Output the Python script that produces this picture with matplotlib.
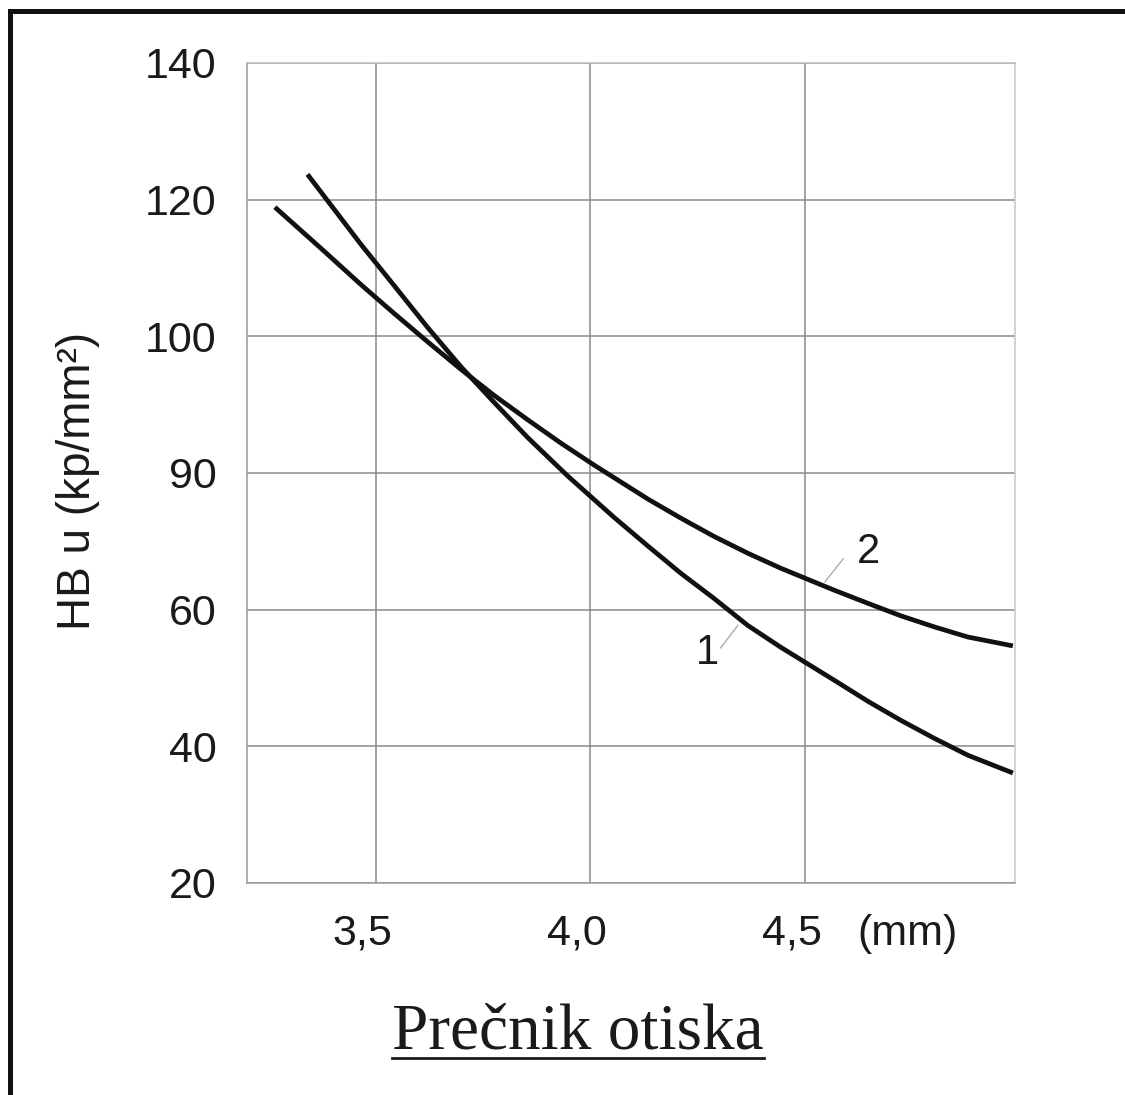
import numpy as np
import matplotlib
matplotlib.use("Agg")
import matplotlib.pyplot as plt
from matplotlib.lines import Line2D
from matplotlib.transforms import ScaledTranslation

#data
hb_ticks=[20,40,60,90,100,120,140]
d_ticks=[3.5,4.0,4.5]
d_labels=["3,5","4,0","4,5"]

d_curve1=[3.341,3.465,3.542,3.621,3.698,3.775,3.854,3.948,4.055,4.134,4.211,4.288,4.367,4.444,
          4.568,4.647,4.724,4.801,4.880,4.985]
hb_curve1=[123.7,113.5,107.5,101.3,97.8,95.2,92.6,89.3,80.3,74.0,68.0,62.5,57.7,54.5,
           49.7,46.6,43.8,41.2,38.7,36.1]

d_curve2=[3.265,3.372,3.465,3.542,3.621,3.698,3.775,3.854,3.931,4.008,4.134,4.211,4.288,4.367,4.444,
          4.568,4.647,4.724,4.801,4.880,4.985]
hb_curve2=[118.9,112.9,107.6,103.4,99.6,97.6,95.7,93.9,92.2,90.6,84.3,80.1,76.1,72.4,69.1,
           64.3,61.4,59.1,57.5,56.0,54.7]

#the hb axis is not linear: every tick gets the same spacing
tick_pos=np.arange(len(hb_ticks))
def fwd(v):
    return np.interp(v,hb_ticks,tick_pos)
def inv(p):
    return np.interp(p,tick_pos,hb_ticks)

plt.rcParams['font.family']=['Liberation Sans','DejaVu Sans']

fig=plt.figure(figsize=(11.25,10.95),dpi=100)
W,H=1125,1095
ax=fig.add_axes([247/W,1-883/H,(1015-247)/W,(883-63)/H])
ax.set_yscale('function',functions=(fwd,inv))
ax.set_xlim(3.2,4.99)
ax.set_ylim(20,140)
ax.set_yticks(hb_ticks)
ax.set_yticklabels([str(v) for v in hb_ticks])
ax.set_xticks(d_ticks)
ax.set_xticklabels(d_labels)
ax.tick_params(length=0,labelsize=31,colors='#1a1a1a')
ax.tick_params(axis='y',pad=22)
ax.tick_params(axis='x',pad=22)
#x tick labels sit a bit left of their grid lines in the original
for lab in ax.get_xticklabels():
    lab.set_transform(lab.get_transform()+ScaledTranslation(-0.13,0,fig.dpi_scale_trans))
ax.grid(True,color='#8a8a8a',lw=1.1)
for s in ax.spines.values():
    s.set_color('#9a9a9a')
    s.set_linewidth(1.1)
ax.spines['right'].set_color('#c8c8c8')
ax.spines['top'].set_color('#bdbdbd')

#curves
ax.plot(d_curve1,hb_curve1,color='#111111',lw=3.4,solid_capstyle='butt',solid_joinstyle='round')
ax.plot(d_curve2,hb_curve2,color='#111111',lw=3.4,solid_capstyle='butt',solid_joinstyle='round')

#curve labels with small leader lines
ax.plot([4.304,4.344],[54.4,57.7],color='#aaaaaa',lw=1)
ax.plot([4.547,4.589],[66.1,71.1],color='#aaaaaa',lw=1)
ax.text(4.274,53.7,"1",fontsize=30,ha='center',va='center',color='#1a1a1a')
ax.text(4.649,72.6,"2",fontsize=30,ha='center',va='center',color='#1a1a1a')

#unit next to the x ticks
ax.annotate("(mm)",xy=(4.74,0),xycoords=('data','axes fraction'),xytext=(0,-22),
            textcoords='offset points',ha='center',va='top',fontsize=31,color='#1a1a1a')

ax.set_ylabel("HB u (kp/mm²)",fontsize=33,color='#1a1a1a')
ax.yaxis.set_label_coords(-(247-100)/768,1-(481-63)/820)

#title at the bottom, underlined
t=fig.text(578/W,1-1033/H,"Prečnik otiska",family='Liberation Serif',fontsize=47,
           ha='center',va='center',color='#1a1a1a')
fig.canvas.draw()
bb=t.get_window_extent()
fig.add_artist(Line2D([bb.x0/W,bb.x1/W],[1-1058/H,1-1058/H],color='#1a1a1a',lw=2))

#black frame round the picture (left and top only)
fr=dict(color='#111111',lw=3.6,solid_capstyle='projecting')
fig.add_artist(Line2D([9.5/W,9.5/W],[0,1-10.5/H],**fr))
fig.add_artist(Line2D([9.5/W,1.0],[1-10.5/H,1-10.5/H],**fr))

fig.savefig("out.png",dpi=100)
